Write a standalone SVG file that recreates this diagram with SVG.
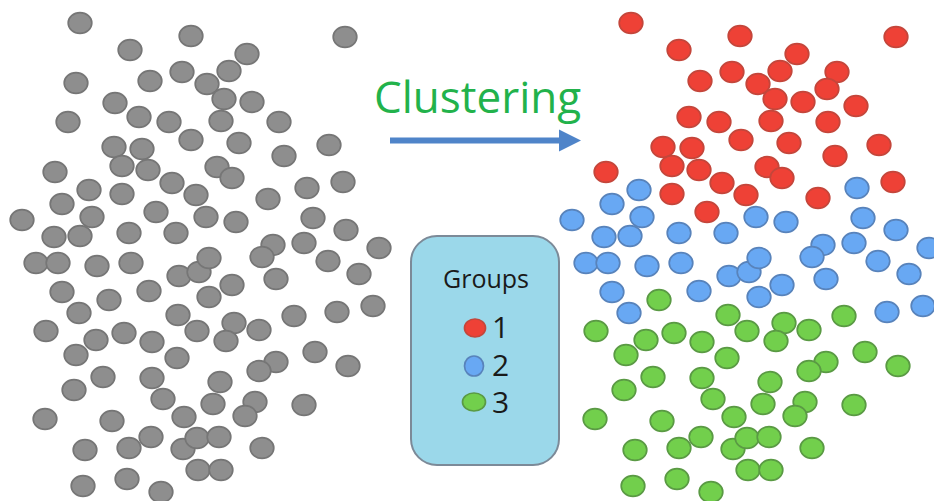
<svg xmlns="http://www.w3.org/2000/svg" width="934" height="501" viewBox="0 0 934 501">
  <style>
    .d { stroke-width: 1.7; }
    .gy { fill: #8e8e8e; stroke: #767676; }
    .rd { fill: #ee4136; stroke: #c4463b; }
    .bl { fill: #68a8f3; stroke: #5883bb; }
    .gn { fill: #72cf4c; stroke: #5a9a44; }
    .title { font-family: "Open Sans", "Noto Sans", sans-serif; font-size: 44px; fill: #22b24b; }
    .lg { font-family: "Open Sans", "Noto Sans", sans-serif; fill: #1a1a1a; }
  </style>
  <defs>
    <ellipse id="dot" cx="0" cy="0" rx="11.8" ry="10.3" class="d"/>
    <marker id="head" viewBox="0 0 10 10" refX="0" refY="5" markerWidth="3.7" markerHeight="3.7" markerUnits="strokeWidth" orient="auto">
      <path d="M0,0 L10,5 L0,10 Z" fill="#4f84c9"/>
    </marker>
  </defs>
  <rect width="934" height="501" fill="#ffffff"/>

  <!-- unlabelled data points -->
  <g id="raw-points" class="gy">
    <use href="#dot" x="80" y="23"/><use href="#dot" x="191" y="36"/><use href="#dot" x="345" y="37"/>
    <use href="#dot" x="130" y="50"/><use href="#dot" x="247" y="54"/><use href="#dot" x="182" y="72"/>
    <use href="#dot" x="229" y="71"/><use href="#dot" x="150" y="81"/><use href="#dot" x="207" y="84"/>
    <use href="#dot" x="76" y="83"/><use href="#dot" x="224" y="99"/><use href="#dot" x="252" y="102"/>
    <use href="#dot" x="115" y="103"/><use href="#dot" x="139" y="117"/><use href="#dot" x="169" y="122"/>
    <use href="#dot" x="221" y="121"/><use href="#dot" x="279" y="122"/><use href="#dot" x="68" y="122"/>
    <use href="#dot" x="191" y="140"/><use href="#dot" x="239" y="143"/><use href="#dot" x="329" y="145"/>
    <use href="#dot" x="114" y="147"/><use href="#dot" x="142" y="149"/><use href="#dot" x="284" y="156"/>
    <use href="#dot" x="55" y="172"/><use href="#dot" x="122" y="166"/><use href="#dot" x="148" y="170"/>
    <use href="#dot" x="217" y="167"/><use href="#dot" x="232" y="178"/><use href="#dot" x="343" y="182"/>
    <use href="#dot" x="89" y="190"/><use href="#dot" x="172" y="183"/><use href="#dot" x="122" y="194"/>
    <use href="#dot" x="196" y="195"/><use href="#dot" x="307" y="188"/><use href="#dot" x="268" y="199"/>
    <use href="#dot" x="62" y="204"/><use href="#dot" x="156" y="212"/><use href="#dot" x="92" y="217"/>
    <use href="#dot" x="22" y="220"/><use href="#dot" x="206" y="217"/><use href="#dot" x="236" y="222"/>
    <use href="#dot" x="313" y="218"/><use href="#dot" x="346" y="230"/><use href="#dot" x="54" y="237"/>
    <use href="#dot" x="80" y="236"/><use href="#dot" x="129" y="233"/><use href="#dot" x="176" y="233"/>
    <use href="#dot" x="273" y="245"/><use href="#dot" x="304" y="243"/><use href="#dot" x="379" y="248"/>
    <use href="#dot" x="36" y="263"/><use href="#dot" x="58" y="263"/><use href="#dot" x="97" y="266"/>
    <use href="#dot" x="131" y="263"/><use href="#dot" x="179" y="276"/><use href="#dot" x="199" y="272"/>
    <use href="#dot" x="209" y="258"/><use href="#dot" x="262" y="257"/><use href="#dot" x="328" y="261"/>
    <use href="#dot" x="276" y="279"/><use href="#dot" x="359" y="274"/><use href="#dot" x="62" y="292"/>
    <use href="#dot" x="109" y="300"/><use href="#dot" x="149" y="291"/><use href="#dot" x="232" y="285"/>
    <use href="#dot" x="209" y="297"/><use href="#dot" x="79" y="313"/><use href="#dot" x="178" y="315"/>
    <use href="#dot" x="294" y="316"/><use href="#dot" x="337" y="312"/><use href="#dot" x="373" y="306"/>
    <use href="#dot" x="46" y="331"/><use href="#dot" x="96" y="340"/><use href="#dot" x="124" y="333"/>
    <use href="#dot" x="152" y="342"/><use href="#dot" x="197" y="331"/><use href="#dot" x="234" y="323"/>
    <use href="#dot" x="226" y="341"/><use href="#dot" x="259" y="330"/><use href="#dot" x="76" y="355"/>
    <use href="#dot" x="177" y="358"/><use href="#dot" x="315" y="352"/><use href="#dot" x="348" y="366"/>
    <use href="#dot" x="276" y="362"/><use href="#dot" x="259" y="371"/><use href="#dot" x="103" y="377"/>
    <use href="#dot" x="152" y="378"/><use href="#dot" x="220" y="382"/><use href="#dot" x="74" y="390"/>
    <use href="#dot" x="163" y="399"/><use href="#dot" x="213" y="404"/><use href="#dot" x="255" y="402"/>
    <use href="#dot" x="245" y="416"/><use href="#dot" x="304" y="405"/><use href="#dot" x="45" y="419"/>
    <use href="#dot" x="112" y="421"/><use href="#dot" x="184" y="417"/><use href="#dot" x="85" y="450"/>
    <use href="#dot" x="129" y="448"/><use href="#dot" x="151" y="437"/><use href="#dot" x="183" y="449"/>
    <use href="#dot" x="197" y="438"/><use href="#dot" x="219" y="437"/><use href="#dot" x="262" y="448"/>
    <use href="#dot" x="198" y="470"/><use href="#dot" x="221" y="470"/><use href="#dot" x="83" y="486"/>
    <use href="#dot" x="127" y="479"/><use href="#dot" x="161" y="492"/>
  </g>

  <!-- title and arrow -->
  <g id="title">
    <text class="title" x="374" y="113">Clustering</text>
  </g>
  <g id="connectors">
    <line x1="390" y1="140.5" x2="559" y2="140.5" stroke="#4f84c9" stroke-width="6" marker-end="url(#head)"/>
  </g>

  <!-- group 1 -->
  <g id="cluster-1" class="rd">
    <use href="#dot" x="631" y="23"/><use href="#dot" x="740" y="36"/><use href="#dot" x="896" y="37"/>
    <use href="#dot" x="679" y="50"/><use href="#dot" x="797" y="54"/><use href="#dot" x="732" y="72"/>
    <use href="#dot" x="780" y="71"/><use href="#dot" x="837" y="72"/><use href="#dot" x="700" y="81"/>
    <use href="#dot" x="758" y="84"/><use href="#dot" x="827" y="89"/><use href="#dot" x="775" y="99"/>
    <use href="#dot" x="803" y="102"/><use href="#dot" x="856" y="106"/><use href="#dot" x="689" y="117"/>
    <use href="#dot" x="719" y="122"/><use href="#dot" x="771" y="121"/><use href="#dot" x="828" y="122"/>
    <use href="#dot" x="741" y="140"/><use href="#dot" x="789" y="143"/><use href="#dot" x="879" y="145"/>
    <use href="#dot" x="663" y="147"/><use href="#dot" x="692" y="148"/><use href="#dot" x="835" y="156"/>
    <use href="#dot" x="606" y="172"/><use href="#dot" x="672" y="166"/><use href="#dot" x="699" y="170"/>
    <use href="#dot" x="767" y="167"/><use href="#dot" x="782" y="178"/><use href="#dot" x="893" y="182"/>
    <use href="#dot" x="722" y="183"/><use href="#dot" x="672" y="194"/><use href="#dot" x="746" y="195"/>
    <use href="#dot" x="818" y="198"/><use href="#dot" x="707" y="212"/>
  </g>

  <!-- group 2 -->
  <g id="cluster-2" class="bl">
    <use href="#dot" x="639" y="190"/><use href="#dot" x="857" y="188"/><use href="#dot" x="612" y="204"/>
    <use href="#dot" x="642" y="217"/><use href="#dot" x="572" y="220"/><use href="#dot" x="756" y="217"/>
    <use href="#dot" x="786" y="222"/><use href="#dot" x="863" y="218"/><use href="#dot" x="896" y="230"/>
    <use href="#dot" x="604" y="237"/><use href="#dot" x="630" y="236"/><use href="#dot" x="679" y="233"/>
    <use href="#dot" x="726" y="233"/><use href="#dot" x="823" y="245"/><use href="#dot" x="854" y="243"/>
    <use href="#dot" x="929" y="248"/><use href="#dot" x="586" y="263"/><use href="#dot" x="608" y="263"/>
    <use href="#dot" x="647" y="266"/><use href="#dot" x="681" y="263"/><use href="#dot" x="729" y="276"/>
    <use href="#dot" x="749" y="272"/><use href="#dot" x="759" y="258"/><use href="#dot" x="812" y="257"/>
    <use href="#dot" x="878" y="261"/><use href="#dot" x="826" y="279"/><use href="#dot" x="909" y="274"/>
    <use href="#dot" x="612" y="292"/><use href="#dot" x="699" y="291"/><use href="#dot" x="782" y="285"/>
    <use href="#dot" x="759" y="297"/><use href="#dot" x="629" y="313"/><use href="#dot" x="887" y="312"/>
    <use href="#dot" x="923" y="306"/>
  </g>

  <!-- group 3 -->
  <g id="cluster-3" class="gn">
    <use href="#dot" x="659" y="300"/><use href="#dot" x="728" y="315"/><use href="#dot" x="844" y="316"/>
    <use href="#dot" x="596" y="331"/><use href="#dot" x="646" y="340"/><use href="#dot" x="674" y="333"/>
    <use href="#dot" x="702" y="342"/><use href="#dot" x="747" y="331"/><use href="#dot" x="784" y="323"/>
    <use href="#dot" x="776" y="341"/><use href="#dot" x="809" y="330"/><use href="#dot" x="626" y="355"/>
    <use href="#dot" x="727" y="358"/><use href="#dot" x="865" y="352"/><use href="#dot" x="898" y="366"/>
    <use href="#dot" x="826" y="362"/><use href="#dot" x="809" y="371"/><use href="#dot" x="653" y="377"/>
    <use href="#dot" x="702" y="378"/><use href="#dot" x="770" y="382"/><use href="#dot" x="624" y="390"/>
    <use href="#dot" x="713" y="399"/><use href="#dot" x="763" y="404"/><use href="#dot" x="805" y="402"/>
    <use href="#dot" x="795" y="416"/><use href="#dot" x="854" y="405"/><use href="#dot" x="595" y="419"/>
    <use href="#dot" x="662" y="421"/><use href="#dot" x="734" y="417"/><use href="#dot" x="635" y="450"/>
    <use href="#dot" x="679" y="448"/><use href="#dot" x="701" y="437"/><use href="#dot" x="733" y="449"/>
    <use href="#dot" x="747" y="438"/><use href="#dot" x="769" y="437"/><use href="#dot" x="812" y="448"/>
    <use href="#dot" x="748" y="470"/><use href="#dot" x="771" y="470"/><use href="#dot" x="633" y="486"/>
    <use href="#dot" x="677" y="479"/><use href="#dot" x="711" y="492"/>
  </g>

  <!-- legend -->
  <g id="legend">
    <rect x="411" y="236" width="148" height="229" rx="26" ry="26" fill="#9bd8ea" stroke="#7c8a98" stroke-width="2"/>
    <text class="lg" x="486" y="288" font-size="25" text-anchor="middle">Groups</text>
    <ellipse cx="475" cy="328" rx="10.5" ry="9" class="d rd"/>
    <text class="lg" x="492" y="338" font-size="30">1</text>
    <ellipse cx="474" cy="366" rx="9.5" ry="10" class="d bl"/>
    <text class="lg" x="492" y="376" font-size="30">2</text>
    <ellipse cx="474" cy="402" rx="11.5" ry="9" class="d gn"/>
    <text class="lg" x="492" y="413" font-size="30">3</text>
  </g>
</svg>
